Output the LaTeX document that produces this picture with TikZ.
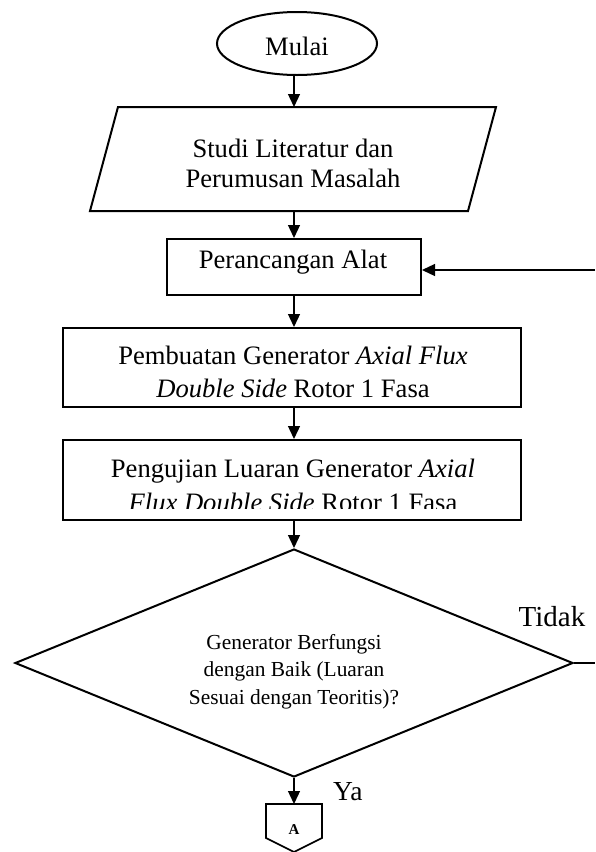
\documentclass[tikz,border=0pt]{standalone}
\usepackage{fontspec}
\setmainfont{Liberation Serif}
\usetikzlibrary{arrows.meta,shapes.geometric}
\newcommand{\mlines}[1]{\begin{tabular}[t]{@{}c@{}}#1\end{tabular}}
\begin{document}
\begin{tikzpicture}[x=1pt,y=-1pt,
  shp/.style={draw, line width=2pt},
  boxnode/.style={shp, rectangle, inner sep=0pt, minimum width=#1},
  lbl/.style={inner sep=0pt, anchor=base},
  big/.style={font=\fontsize{26.6}{32}\selectfont},
  flow/.style={line width=1.3pt, -{Triangle[length=13pt,width=12pt]}},
  plainline/.style={line width=1.3pt},
]
\useasboundingbox (0,0) rectangle (595,852);
\fill[white] (0,0) rectangle (595,852);
\coordinate (ax) at (294,0);

% start
\node[shp, ellipse, minimum width=160pt, minimum height=63pt, inner sep=0pt] (start) at (297,43.5) {};
\node[lbl, big] (starttxt) at (297,55) {Mulai};

% parallelogram
\coordinate (pTL) at (118,107);
\coordinate (pTR) at (496,107);
\coordinate (pBR) at (468,211);
\coordinate (pBL) at (90,211);
\draw[line width=2pt, line join=miter] (pTL) -- (pTR) -- (pBR) -- (pBL) -- cycle;
\coordinate (pTop) at (294,107);
\coordinate (pBot) at (294,211);
\node[lbl, font=\fontsize{26.6}{30}\selectfont] (littxt) at (293,157) {\mlines{Studi Literatur dan\\Perumusan Masalah}};

% design
\node[boxnode=254pt, minimum height=56pt] (design) at (294,267) {};
\node[lbl, big] (designtxt) at (293,268) {Perancangan Alat};

% build
\node[boxnode=458pt, minimum height=79pt] (build) at (292,367.5) {};
\node[lbl, font=\fontsize{26.6}{33}\selectfont] (buildtxt) at (293,364) {\mlines{Pembuatan Generator \textit{Axial Flux}\\\textit{Double Side} Rotor 1 Fasa}};

% test
\node[boxnode=458pt, minimum height=80pt] (test) at (292,480) {};
\begin{scope}
\clip (64,441) rectangle (520,508);
\node[lbl, font=\fontsize{26.6}{34}\selectfont] (testtxt) at (293,477) {\mlines{Pengujian Luaran Generator \textit{Axial}\\\textit{Flux Double Side} Rotor 1 Fasa}};
\end{scope}

% decision
\node[shp, diamond, minimum width=558pt, minimum height=228pt, inner sep=0pt] (dec) at (294,663) {};
\node[lbl, font=\fontsize{21.4}{27.5}\selectfont] (dectxt) at (294,649) {\mlines{Generator Berfungsi\\dengan Baik (Luaran\\Sesuai dengan Teoritis)?}};
\node[lbl, font=\fontsize{29}{34}\selectfont] (tidak) at (552,626) {Tidak};
\node[lbl, anchor=base west, font=\fontsize{27.5}{32}\selectfont] (ya) at (333,800) {Ya};

% off-page connector
\coordinate (cTL) at (266,804);
\coordinate (cTR) at (322,804);
\coordinate (cR) at (322,838);
\coordinate (cTip) at (294,852);
\coordinate (cL) at (266,838);
\coordinate (cTop) at (294,804);
\draw[line width=1.6pt, line join=miter] (cTL) -- (cTR) -- (cR) -- (cTip) -- (cL) -- cycle;
\node[lbl, font=\bfseries\fontsize{15}{18}\selectfont] (conntxt) at (294,834) {A};

% connectors
\draw[flow] (start.south -| ax) -- (pTop);
\draw[flow] (pBot) -- (design.north -| ax);
\draw[flow] (design.south -| ax) -- (build.north -| ax);
\draw[flow] (build.south -| ax) -- (test.north -| ax);
\draw[flow] (test.south -| ax) -- (dec.north);
\draw[flow] (dec.south) -- (cTop);
\coordinate (fb) at (595,270);
\draw[flow] (fb) -- (fb -| design.east);
\coordinate (no) at (595,663);
\draw[plainline] (dec.east) -- (no);
\end{tikzpicture}
\end{document}
